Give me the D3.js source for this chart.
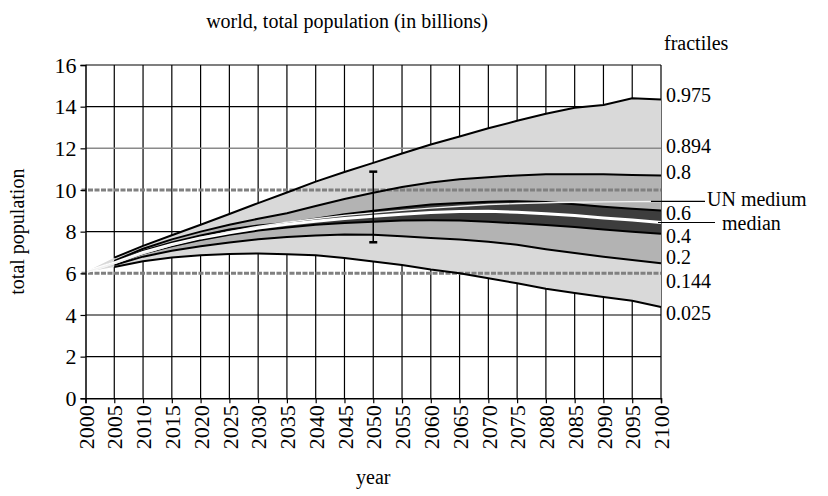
<!DOCTYPE html>
<html><head><meta charset="utf-8">
<script src="https://cdn.jsdelivr.net/npm/d3@7"></script>
<style>
body{margin:0;background:#fff}
svg text{font-family:"Liberation Serif","Times New Roman",serif;fill:#000}
</style></head><body>
<svg id="chart" width="828" height="496"></svg>
<script>
// Probabilistic world population projection, fractiles of total population (billions)
const years    = [2000,2005,2010,2015,2020,2025,2030,2035,2040,2045,2050,2055,2060,2065,2070,2075,2080,2085,2090,2095,2100];
const f025     = [6.06,6.30,6.58,6.76,6.87,6.93,6.95,6.92,6.87,6.74,6.57,6.40,6.18,6.00,5.76,5.52,5.26,5.05,4.86,4.68,4.38];
const f200     = [6.06,6.40,6.80,7.08,7.30,7.48,7.63,7.74,7.82,7.86,7.85,7.78,7.70,7.62,7.52,7.37,7.16,6.97,6.80,6.64,6.48];
const f400     = [6.06,6.45,6.95,7.30,7.60,7.85,8.05,8.20,8.33,8.42,8.48,8.53,8.55,8.54,8.48,8.40,8.32,8.22,8.10,8.00,7.90];
const median   = [6.06,6.50,7.00,7.38,7.70,7.95,8.17,8.35,8.50,8.63,8.74,8.84,8.92,8.97,8.98,8.93,8.86,8.77,8.66,8.56,8.44];
const f600     = [6.06,6.52,7.07,7.48,7.82,8.10,8.30,8.42,8.62,8.83,9.00,9.16,9.30,9.38,9.44,9.46,9.42,9.32,9.20,9.10,9.02];
const f800     = [6.06,6.60,7.18,7.63,8.00,8.33,8.62,8.88,9.23,9.57,9.87,10.14,10.36,10.51,10.61,10.70,10.76,10.76,10.75,10.72,10.70];
const f975     = [6.06,6.75,7.32,7.83,8.33,8.85,9.37,9.88,10.40,10.86,11.30,11.75,12.18,12.57,12.96,13.32,13.66,13.95,14.08,14.40,14.34];
const unMedium = [6.06,6.47,6.95,7.35,7.70,8.00,8.25,8.45,8.62,8.78,8.90,9.02,9.13,9.22,9.30,9.35,9.39,9.41,9.43,9.44,9.45];
const yTicks   = [0,2,4,6,8,10,12,14,16];
const xTicks   = years;
const refSolid  = [12];      // level whose 2100 fractile is 0.894
const refDashed = [10, 6];   // 6 billion: 2100 fractile 0.144
const errorBar = {year: 2050, low: 7.49, high: 10.88};

const svg = d3.select("#chart");
const x = d3.scaleLinear().domain([2000, 2100]).range([85.5, 661]);
const y = d3.scaleLinear().domain([0, 16]).range([398.3, 65]);
const FS = 22, LFS = 20;

// grid
const grid = svg.append("g");
grid.selectAll(".vg").data(xTicks.filter(d => d > 2000)).join("line")
  .attr("x1", d => x(d)).attr("x2", d => x(d)).attr("y1", y(16)).attr("y2", y(0))
  .attr("stroke", "#000").attr("stroke-width", 1.2);
grid.selectAll(".hg").data(yTicks.filter(d => d > 0 && !refSolid.includes(d) && !refDashed.includes(d))).join("line")
  .attr("x1", x(2000)).attr("x2", x(2100)).attr("y1", d => y(d)).attr("y2", d => y(d))
  .attr("stroke", "#000").attr("stroke-width", 1.2);

// fractile bands
const rows = years.map((yr, i) => ({yr, f025: f025[i], f200: f200[i], f400: f400[i], median: median[i],
  f600: f600[i], f800: f800[i], f975: f975[i], un: unMedium[i]}));
const bands = [["f025","f200","#d9d9d9"],["f200","f400","#b3b3b3"],["f400","f600","#3d3d3d"],
               ["f600","f800","#b3b3b3"],["f800","f975","#d9d9d9"]];
bands.forEach(([lo, hi, col]) => {
  svg.append("path").datum(rows)
    .attr("d", d3.area().x(d => x(d.yr)).y0(d => y(d[lo])).y1(d => y(d[hi])))
    .attr("fill", col);
});

// reference levels
svg.selectAll(".rs").data(refSolid).join("line")
  .attr("x1", x(2000)).attr("x2", x(2100)).attr("y1", d => y(d)).attr("y2", d => y(d))
  .attr("stroke", "#8a8a8a").attr("stroke-width", 1.5);
svg.selectAll(".rd").data(refDashed).join("line")
  .attr("x1", x(2000) - 4).attr("x2", x(2100)).attr("y1", d => y(d)).attr("y2", d => y(d))
  .attr("stroke", "#808080").attr("stroke-width", 3).attr("stroke-dasharray", "5,1.5");

// fractile boundaries (drawn from 2005 on)
const lineRows = rows.filter(d => d.yr >= 2005);
["f025","f200","f400","f600","f800","f975"].forEach(k => {
  svg.append("path").datum(lineRows)
    .attr("d", d3.line().x(d => x(d.yr)).y(d => y(d[k])))
    .attr("fill", "none").attr("stroke", "#000").attr("stroke-width", 2);
});
svg.append("path").datum(rows)
  .attr("d", d3.line().x(d => x(d.yr)).y(d => y(d.median)))
  .attr("fill", "none").attr("stroke", "#fff").attr("stroke-width", 3);
svg.append("path").datum(rows)
  .attr("d", d3.line().x(d => x(d.yr)).y(d => y(d.un)))
  .attr("fill", "none").attr("stroke", "#f2f2f2").attr("stroke-width", 1.4);

// 2050 range bar
const eb = svg.append("g").attr("stroke", "#000");
eb.append("line").attr("x1", x(errorBar.year)).attr("x2", x(errorBar.year))
  .attr("y1", y(errorBar.low)).attr("y2", y(errorBar.high)).attr("stroke-width", 1.5);
[errorBar.low, errorBar.high].forEach(v => eb.append("line")
  .attr("x1", x(errorBar.year) - 4).attr("x2", x(errorBar.year) + 4)
  .attr("y1", y(v)).attr("y2", y(v)).attr("stroke-width", 2.5));

// axes
const ya = svg.append("g").attr("transform", `translate(${x(2000)},0)`)
  .call(d3.axisLeft(y).tickValues(yTicks).tickSize(5).tickPadding(4).tickFormat(d3.format("d")));
const xa = svg.append("g").attr("transform", `translate(0,${y(0)})`)
  .call(d3.axisBottom(x).tickValues(xTicks).tickSize(5).tickFormat(d3.format("d")));
[ya, xa].forEach(a => {
  a.attr("font-family", null).attr("font-size", null);
  a.select(".domain").attr("stroke", "#000").attr("stroke-width", 1.5);
  a.selectAll(".tick line").attr("stroke", "#000").attr("stroke-width", 1.2);
  a.selectAll("text").style("font-size", FS + "px").style("font-family", "'Liberation Serif', serif");
});
xa.selectAll("text").attr("transform", "rotate(-90)").attr("x", -7).attr("y", 0)
  .attr("dy", "0.35em").style("text-anchor", "end");

// fractile labels at right
const labels = [
  {t: "0.975", v: f975[20], dy: -5}, {t: "0.894", v: refSolid[0], dy: -2},
  {t: "0.8", v: f800[20], dy: -3}, {t: "0.6", v: f600[20], dy: 3},
  {t: "0.4", v: f400[20], dy: 2}, {t: "0.2", v: f200[20], dy: -6},
  {t: "0.144", v: refDashed[1], dy: 8}, {t: "0.025", v: f025[20], dy: 6}
];
svg.selectAll(".fl").data(labels).join("text")
  .attr("x", 666).attr("y", d => y(d.v) + d.dy).attr("dy", "0.35em")
  .style("font-size", LFS + "px").text(d => d.t);

const unY = y(unMedium[20]), medY = y(median[20]);
svg.append("line").attr("x1", 651).attr("x2", 705).attr("y1", unY).attr("y2", unY)
  .attr("stroke", "#000").attr("stroke-width", 1.2);
svg.append("text").attr("x", 707).attr("y", unY - 2).attr("dy", "0.35em").style("font-size", LFS + "px").text("UN medium");
svg.append("line").attr("x1", 658).attr("x2", 715).attr("y1", medY).attr("y2", medY)
  .attr("stroke", "#000").attr("stroke-width", 1.2);
svg.append("text").attr("x", 722).attr("y", medY + 1).attr("dy", "0.35em").style("font-size", LFS + "px").text("median");

// titles
svg.append("text").attr("x", 347).attr("y", 28).attr("text-anchor", "middle").style("font-size", "20px")
  .text("world, total population (in billions)");
svg.append("text").attr("x", 664).attr("y", 50).style("font-size", "20px").text("fractiles");
svg.append("text").attr("x", (x(2000) + x(2100)) / 2).attr("y", 484).attr("text-anchor", "middle")
  .style("font-size", "20px").text("year");
svg.append("text").attr("transform", `translate(24,${(y(0) + y(16)) / 2}) rotate(-90)`)
  .attr("text-anchor", "middle").style("font-size", "20px").text("total population");
</script>
</body></html>
